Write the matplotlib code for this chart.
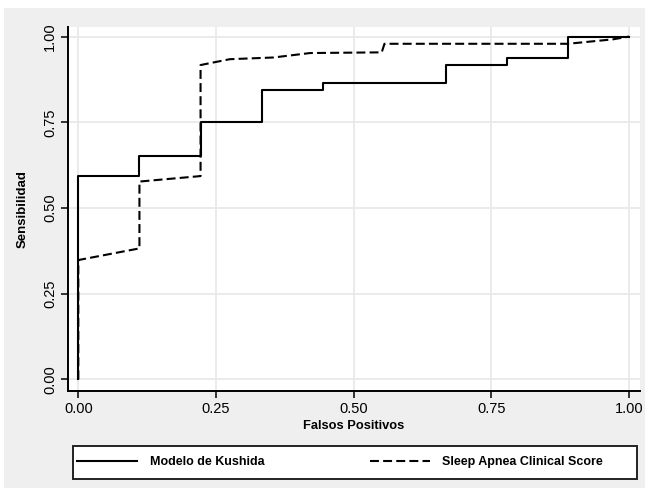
import matplotlib
matplotlib.use("Agg")
import matplotlib.pyplot as plt
from matplotlib.patches import Rectangle

plt.rcParams["font.family"] = ["Liberation Sans", "DejaVu Sans"]

# ROC points
kushida_fp = [0.0, 0.0, 0.111, 0.111, 0.222, 0.222, 0.333, 0.333, 0.444, 0.444,
              0.667, 0.667, 0.778, 0.778, 0.889, 0.889, 1.0]
kushida_sens = [0.0, 0.593, 0.593, 0.653, 0.653, 0.75, 0.75, 0.843, 0.843, 0.865,
                0.865, 0.918, 0.918, 0.938, 0.938, 1.0, 1.0]

sacs_fp = [0.0, 0.0, 0.111, 0.111, 0.222, 0.222, 0.275, 0.354, 0.421, 0.551,
           0.556, 0.889, 0.971, 1.0]
sacs_sens = [0.0, 0.348, 0.382, 0.577, 0.593, 0.917, 0.934, 0.939, 0.952, 0.954,
             0.979, 0.979, 0.992, 1.0]

ticks = [0.0, 0.25, 0.5, 0.75, 1.0]
tick_labels = ["0.00", "0.25", "0.50", "0.75", "1.00"]

fig = plt.figure(figsize=(6.49, 4.98), dpi=100)
fig.patch.set_facecolor("white")
# grey outer panel
fig.patches.append(Rectangle((0.0062, 0.0201), 0.9877, 0.9639, transform=fig.transFigure,
                             facecolor="#efefef", edgecolor="none", zorder=-10))
# legend box
fig.patches.append(Rectangle((0.1125, 0.0382), 0.869, 0.0663, transform=fig.transFigure,
                             facecolor="white", edgecolor="#222222", lw=1.4, zorder=-5))

ax = fig.add_axes([0.1048, 0.2149, 0.8813, 0.7309])
ax.set_facecolor("white")

ax.plot(kushida_fp, kushida_sens, color="black", lw=1.5, label="Modelo de Kushida", zorder=3)
ax.plot(sacs_fp, sacs_sens, color="black", lw=1.5, dashes=(4.3, 2.0),
        label="Sleep Apnea Clinical Score", zorder=3)

ax.set_xlim(-0.0187, 1.02)
ax.set_ylim(-0.034, 1.028)
ax.set_xticks(ticks)
ax.set_xticklabels(tick_labels)
ax.set_yticks(ticks)
ax.set_yticklabels(tick_labels, rotation=90, va="center")
ax.tick_params(direction="out", length=5, width=1.1, labelsize=10.5, colors="black", pad=3)
ax.grid(True, color="#e8e8e8", lw=1.2, zorder=0)
ax.set_axisbelow(True)

for side in ["top", "right"]:
    ax.spines[side].set_visible(False)
for side in ["left", "bottom"]:
    ax.spines[side].set_linewidth(1.4)

ax.set_xlabel("Falsos Positivos", fontsize=9.3, fontweight="bold", labelpad=3)
ax.set_ylabel("Sensibilidad", fontsize=9.5, fontweight="bold", labelpad=10)

leg = fig.legend(loc="center left", bbox_to_anchor=(0.1125, 0.0713), ncol=2,
                 handlelength=4.8, handletextpad=1.0, columnspacing=8.4, frameon=False,
                 borderaxespad=0, borderpad=0.35, prop={"weight": "bold", "size": 9})

fig.savefig("out.png", dpi=100, facecolor=fig.get_facecolor())
